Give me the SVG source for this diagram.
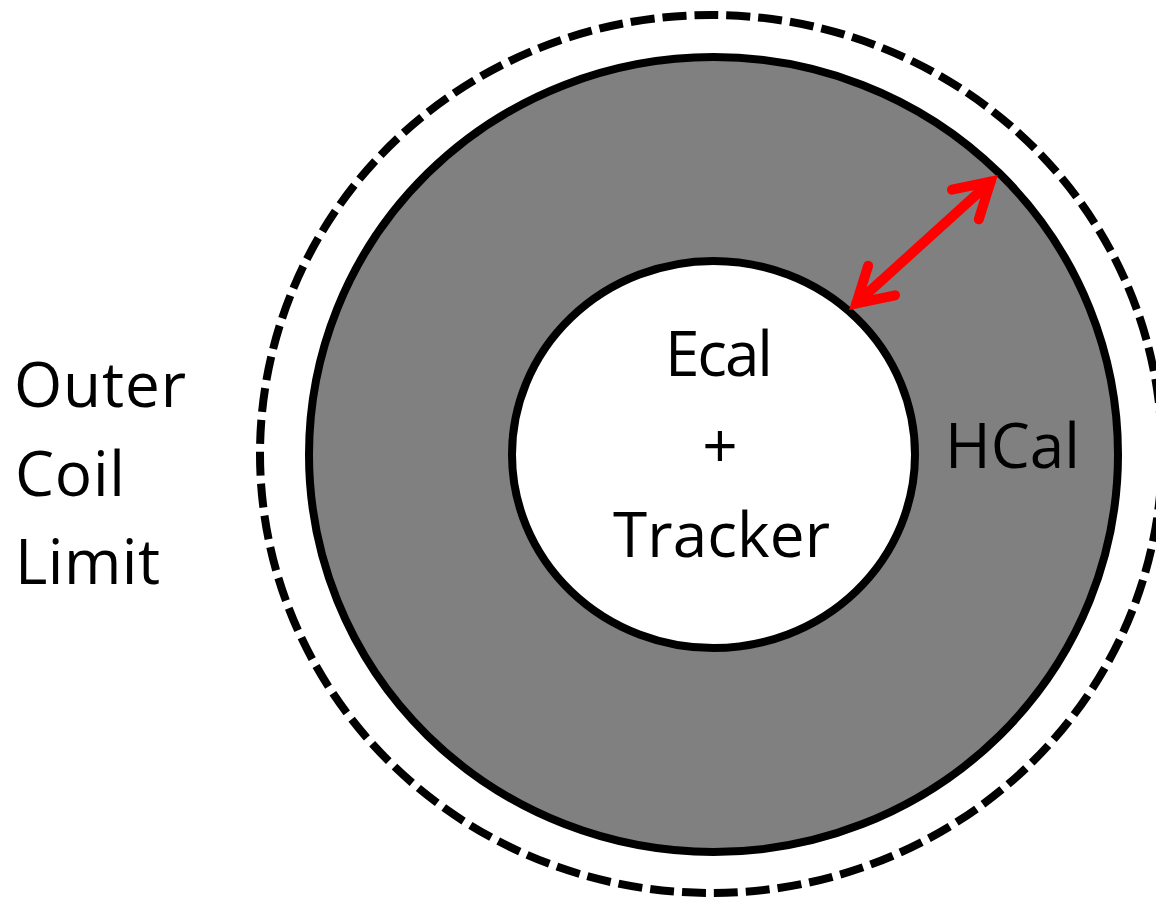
<svg xmlns="http://www.w3.org/2000/svg" width="1156" height="901" viewBox="0 0 1156 901">
  <style>
    .lbl { font-family: "Open Sans", "Noto Sans", "Liberation Sans", sans-serif; font-size: 62px; fill: #000000; }
    .ring { stroke: #000000; stroke-width: 8; }
    .arrow { stroke: #ff0000; stroke-width: 10; fill: none; stroke-linecap: round; stroke-linejoin: miter; stroke-miterlimit: 10; }
  </style>
  <defs>
    <marker id="head" markerUnits="userSpaceOnUse" viewBox="-50 -30 60 60" markerWidth="60" markerHeight="60" refX="0" refY="0" orient="auto-start-reverse" overflow="visible">
      <path class="arrow" d="M -34,-20 L 0,0 L -34,20"/>
    </marker>
  </defs>
  <rect width="1156" height="901" fill="#ffffff"/>
  <g id="hcal">
    <ellipse class="ring" cx="713.5" cy="454.5" rx="404.5" ry="397.5" fill="#808080"/>
    <text class="lbl" x="945" y="468" textLength="135" lengthAdjust="spacing">HCal</text>
  </g>
  <g id="ecal-tracker">
    <ellipse class="ring" cx="713.5" cy="454.5" rx="201.5" ry="193.5" fill="#ffffff"/>
    <text class="lbl" x="719" y="376" text-anchor="middle" textLength="108" lengthAdjust="spacing">Ecal</text>
    <text class="lbl" x="720" y="468" text-anchor="middle" font-size="68">+</text>
    <text class="lbl" x="721.5" y="557" text-anchor="middle" textLength="217" lengthAdjust="spacing">Tracker</text>
  </g>
  <g id="outer-coil-limit">
    <ellipse cx="711" cy="454" rx="451" ry="439" fill="none" stroke="#000000" stroke-width="8" stroke-dasharray="24 8"/>
    <text class="lbl" x="14" y="407" textLength="172" lengthAdjust="spacing">Outer</text>
    <text class="lbl" x="15" y="496" textLength="110" lengthAdjust="spacing">Coil</text>
    <text class="lbl" x="15" y="584" textLength="145" lengthAdjust="spacing">Limit</text>
  </g>
  <g id="connectors">
    <path class="arrow" d="M 856.4,303.3 L 990.6,181.7" stroke-linecap="butt" marker-start="url(#head)" marker-end="url(#head)"/>
  </g>
</svg>
